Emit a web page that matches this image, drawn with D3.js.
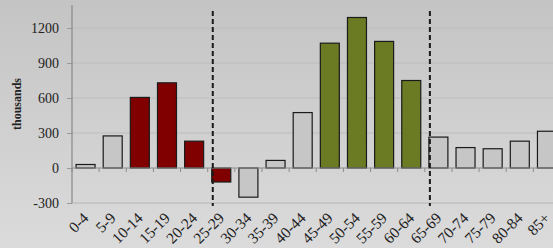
<!DOCTYPE html>
<html>
<head>
<meta charset="utf-8">
<script src="https://cdn.jsdelivr.net/npm/d3@7"></script>
<style>
  body { margin: 0; }
  svg { display: block; }
  text { font-family: "Liberation Serif", "DejaVu Serif", serif; fill: #222; }
</style>
</head>
<body>
<div id="chart"></div>
<script>
// age groups and net change (thousands)
var ageGroups = ["0-4","5-9","10-14","15-19","20-24","25-29","30-34","35-39","40-44",
                 "45-49","50-54","55-59","60-64","65-69","70-74","75-79","80-84","85+"];
var values = [30, 275, 605, 730, 230, -120, -250, 65, 475,
              1070, 1290, 1085, 750, 265, 175, 165, 230, 315];
var groupOf = ["n","n","r","r","r","r","n","n","n",
               "g","g","g","g","n","n","n","n","n"];
var yTicks = [-300, 0, 300, 600, 900, 1200];
var dividers = ["25-29", "65-69"];

var width = 553, height = 248;
var fills = { n: "#c6c6c6", r: "#800000", g: "#6b7b23" };

var svg = d3.select("#chart").append("svg")
  .attr("width", width)
  .attr("height", height);

// background gradient
var grad = svg.append("defs").append("linearGradient")
  .attr("id", "bg").attr("x1", 0).attr("y1", 0).attr("x2", 0).attr("y2", 1);
grad.append("stop").attr("offset", "0%").attr("stop-color", "#c4c4c4");
grad.append("stop").attr("offset", "100%").attr("stop-color", "#dbdbdb");
svg.append("rect").attr("width", width).attr("height", height).attr("fill", "url(#bg)");

var left = 72, bandW = 27.14;
var x = d3.scaleBand()
  .domain(ageGroups)
  .range([left, left + bandW * ageGroups.length])
  .paddingInner(0.3)
  .paddingOuter(0.15);

var y = d3.scaleLinear()
  .domain([-300, 1200])
  .range([203, 28]);

// grid lines
svg.append("g").selectAll("line")
  .data(yTicks.filter(function(d){ return d !== 0; }))
  .enter().append("line")
  .attr("x1", left).attr("x2", width)
  .attr("y1", function(d){ return y(d); })
  .attr("y2", function(d){ return y(d); })
  .attr("stroke", function(d){ return d === -300 ? "#b4b4b4" : "#bcbcbc"; })
  .attr("stroke-width", 1);

// bars
svg.append("g").selectAll("rect")
  .data(values)
  .enter().append("rect")
  .attr("x", function(d, i){ return x(ageGroups[i]); })
  .attr("width", x.bandwidth())
  .attr("y", function(d){ return y(Math.max(0, d)); })
  .attr("height", function(d){ return Math.abs(y(d) - y(0)); })
  .attr("fill", function(d, i){ return fills[groupOf[i]]; })
  .attr("stroke", "#1a1a1a")
  .attr("stroke-width", 1.2);

// zero axis with downward ticks
var xAxis = svg.append("g")
  .attr("transform", "translate(0," + y(0) + ")");
xAxis.append("line")
  .attr("x1", left).attr("x2", width)
  .attr("stroke", "#8c8c8c").attr("stroke-width", 1.2);
xAxis.selectAll(".btick")
  .data(ageGroups)
  .enter().append("line")
  .attr("class", "btick")
  .attr("x1", function(d){ return x(d) - x.step() * x.paddingInner() / 2; })
  .attr("x2", function(d){ return x(d) - x.step() * x.paddingInner() / 2; })
  .attr("y1", 0).attr("y2", 4)
  .attr("stroke", "#8c8c8c");

// y axis
var yAxis = svg.append("g")
  .attr("transform", "translate(" + left + ",0)")
  .call(d3.axisLeft(y).tickValues(yTicks).tickSize(5).tickPadding(8)
    .tickFormat(function(d){ return String(d); }));
yAxis.select(".domain").remove();
yAxis.selectAll(".tick line").attr("stroke", "#9a9a9a");
yAxis.selectAll(".tick text")
  .style("font-size", "14px")
  .style("font-family", "'Liberation Serif', serif")
  .attr("fill", "#222");
svg.append("line")
  .attr("x1", left).attr("x2", left)
  .attr("y1", 5).attr("y2", y(-300))
  .attr("stroke", "#888").attr("stroke-width", 1.2);

svg.append("text")
  .attr("transform", "translate(21," + 104 + ") rotate(-90)")
  .attr("text-anchor", "middle")
  .style("font-size", "12px")
  .style("font-weight", "bold")
  .text("thousands");

// category labels
svg.append("g").selectAll("text")
  .data(ageGroups)
  .enter().append("text")
  .attr("text-anchor", "end")
  .attr("transform", function(d){
    return "translate(" + (x(d) + x.bandwidth() / 2 + 4) + ",219) rotate(-45)";
  })
  .style("font-size", "15.5px")
  .text(function(d){ return d; });

// dashed dividers
svg.append("g").selectAll("line")
  .data(dividers)
  .enter().append("line")
  .attr("x1", function(d){ return x(d) + 1; })
  .attr("x2", function(d){ return x(d) + 1; })
  .attr("y1", 11).attr("y2", 206)
  .attr("stroke", "#1a1a1a")
  .attr("stroke-width", 2)
  .attr("stroke-dasharray", "5,3");
</script>
</body>
</html>
